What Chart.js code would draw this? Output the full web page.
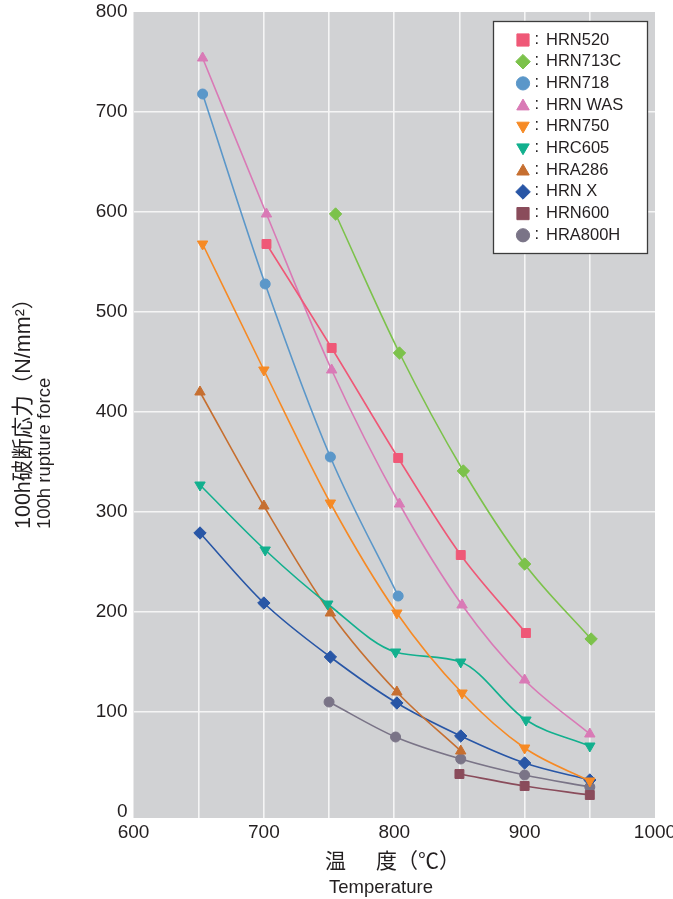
<!DOCTYPE html>
<html><head><meta charset="utf-8">
<script src="https://cdn.jsdelivr.net/npm/chart.js@4.4.0/dist/chart.umd.min.js"></script>
<style>html,body{margin:0;padding:0;background:#fff;}canvas{display:block;}</style>
</head><body>
<canvas id="c" width="673" height="899"></canvas>
<script>
// ---- data ----
const SERIES = ['HRN520','HRN713C','HRN718','HRN WAS','HRN750','HRC605','HRA286','HRN X','HRN600','HRA800H'];
const HRN520_T  = [702, 752, 803, 851, 901];
const HRN520_V  = [568, 464, 354, 257, 179];
const HRN713C_T = [755, 804, 853, 900, 951];
const HRN713C_V = [598, 459, 341, 248, 173];
const HRN718_T  = [653, 701, 751, 803];
const HRN718_V  = [718, 528, 355, 216];
const HRNWAS_T  = [653, 702, 752, 804, 852, 900, 950];
const HRNWAS_V  = [754, 598, 442, 308, 207, 132, 78];
const HRN750_T  = [653, 700, 751, 802, 852, 900, 950];
const HRN750_V  = [568, 442, 309, 199, 119, 64, 31];
const HRC605_T  = [651, 701, 749, 801, 851, 901, 950];
const HRC605_V  = [327, 262, 208, 160, 150, 92, 66];
const HRA286_T  = [651, 700, 751, 802, 851];
const HRA286_V  = [420, 306, 199, 120, 61];
const HRNX_T    = [651, 700, 751, 802, 851, 900, 950];
const HRNX_V    = [279, 209, 155, 109, 76, 49, 32];
const HRN600_T  = [850, 900, 950];
const HRN600_V  = [38, 26, 17];
const HRA800H_T = [750, 801, 851, 900, 950];
const HRA800H_V = [110, 75, 53, 37, 25];
const X_TICKS = [600, 650, 700, 750, 800, 850, 900, 950, 1000];
const Y_TICKS = [0, 100, 200, 300, 400, 500, 600, 700, 800];
const X_TITLE_JA = '温　度（℃）';
const X_TITLE_EN = 'Temperature';
const Y_TITLE_JA = '100h破断応力（N/mm²）';
const Y_TITLE_EN = '100h rupture force';

// ---- styles ----
const STYLE = [
  {c:'#ef5877', s:'rect',    r:6.3, rot:0},
  {c:'#7cc24b', s:'rectRot', r:6.2, rot:0},
  {c:'#5b97c9', s:'circle',  r:5.0, rot:0},
  {c:'#d97ab6', s:'triangle',r:6.0, rot:0},
  {c:'#f68a25', s:'triangle',r:6.0, rot:180},
  {c:'#12b08e', s:'triangle',r:6.0, rot:180},
  {c:'#c66f30', s:'triangle',r:6.0, rot:0},
  {c:'#2856a6', s:'rectRot', r:6.2, rot:0},
  {c:'#8a4c5b', s:'rect',    r:6.3, rot:0},
  {c:'#7a7487', s:'circle',  r:5.0, rot:0}
];
const DATA = [
  [HRN520_T,HRN520_V],[HRN713C_T,HRN713C_V],[HRN718_T,HRN718_V],[HRNWAS_T,HRNWAS_V],
  [HRN750_T,HRN750_V],[HRC605_T,HRC605_V],[HRA286_T,HRA286_V],[HRNX_T,HRNX_V],
  [HRN600_T,HRN600_V],[HRA800H_T,HRA800H_V]
];
const pts = (T,V) => T.map((t,i)=>({x:t,y:V[i]}));
const TXT = '#231f20';
const LAT = '"Liberation Sans", Arial, sans-serif';
const CJK = '"Liberation Sans", "Noto Sans CJK JP", sans-serif';

const datasets = SERIES.map((n,i)=>({
  label:n, data:pts(DATA[i][0],DATA[i][1]),
  showLine:true, borderColor:STYLE[i].c, backgroundColor:STYLE[i].c,
  borderWidth:1.6, cubicInterpolationMode:'monotone',
  pointStyle:STYLE[i].s, pointRadius:STYLE[i].r, pointRotation:STYLE[i].rot,
  pointBorderColor:STYLE[i].c, pointBackgroundColor:STYLE[i].c, pointBorderWidth:1,
  pointHoverRadius:STYLE[i].r
}));

function marker(ctx, st, x, y, r){
  ctx.save();
  ctx.fillStyle = st.c; ctx.strokeStyle = st.c; ctx.lineWidth = 1;
  ctx.beginPath();
  if (st.s === 'rect'){ const h = r*Math.SQRT1_2; ctx.rect(x-h,y-h,2*h,2*h); }
  else if (st.s === 'rectRot'){ ctx.moveTo(x,y-r); ctx.lineTo(x+r,y); ctx.lineTo(x,y+r); ctx.lineTo(x-r,y); ctx.closePath(); }
  else if (st.s === 'circle'){ ctx.arc(x,y,r,0,Math.PI*2); }
  else { let a = st.rot*Math.PI/180; for (let k=0;k<3;k++){ const px=x+Math.sin(a)*r, py=y-Math.cos(a)*r; k?ctx.lineTo(px,py):ctx.moveTo(px,py); a+=2*Math.PI/3; } ctx.closePath(); }
  ctx.fill(); ctx.stroke(); ctx.restore();
}

const deco = {
  id:'deco',
  beforeDraw(chart){
    const {ctx, chartArea:a} = chart;
    ctx.save(); ctx.fillStyle = '#d1d2d4';
    ctx.fillRect(a.left, a.top, a.right-a.left, a.bottom-a.top);
    ctx.restore();
  },
  afterDraw(chart){
    const ctx = chart.ctx;
    ctx.save();
    // legend box
    ctx.fillStyle = '#ffffff'; ctx.fillRect(493.5, 21.5, 154, 232);
    ctx.strokeStyle = '#3c3c3c'; ctx.lineWidth = 1.3; ctx.strokeRect(493.5, 21.5, 154, 232);
    ctx.font = '16.5px ' + LAT; ctx.textBaseline = 'middle'; ctx.textAlign = 'left'; ctx.fillStyle = TXT;
    SERIES.forEach((n,i)=>{
      const y = 40 + i*21.7;
      const st = STYLE[i];
      const r = st.s==='rect'?8.6:(st.s==='rectRot'?7.3:(st.s==='circle'?6.6:7.2));
      marker(ctx, st, 523, y + (st.s==='triangle' ? (st.rot? -1 : 1.2) : 0), r);
      ctx.fillStyle = TXT;
      ctx.fillText(':', 534.5, y-1);
      ctx.fillText(n, 546, y);
    });
    // x titles
    ctx.font = '21px "Noto Sans CJK JP", sans-serif'; ctx.textAlign = 'left'; ctx.textBaseline = 'middle';
    ctx.fillStyle = TXT;
    ctx.fillText(X_TITLE_JA.slice(0,1), 325, 860);
    ctx.fillText(X_TITLE_JA.slice(2), 376, 860);
    ctx.font = '18.5px ' + LAT; ctx.textAlign = 'center';
    ctx.fillText(X_TITLE_EN, 381, 888);
    // y titles
    ctx.translate(24, 529); ctx.rotate(-Math.PI/2);
    ctx.textAlign = 'left'; ctx.textBaseline = 'middle';
    ctx.font = '21.5px ' + CJK;
    ctx.fillText(Y_TITLE_JA, 0, 0);
    ctx.font = '18.5px ' + LAT;
    ctx.fillText(Y_TITLE_EN, 0, 21);
    ctx.restore();
  }
};

new Chart(document.getElementById('c'), {
  type:'scatter',
  data:{datasets},
  options:{
    responsive:false, animation:false, devicePixelRatio:1,
    layout:{padding:{left:0,right:18,top:12,bottom:0}},
    plugins:{legend:{display:false}, tooltip:{enabled:false}},
    scales:{
      x:{
        type:'linear', min:600, max:1000,
        afterBuildTicks(ax){ ax.ticks = X_TICKS.map(v=>({value:v})); },
        afterFit(s){ s.height = 81; s.paddingLeft = 0; s.paddingRight = 0; },
        grid:{drawTicks:false, lineWidth:1.6, color:(c)=> (c.tick && (c.tick.value===600||c.tick.value===1000)) ? 'rgba(0,0,0,0)' : '#f5f5f5'},
        border:{display:false},
        ticks:{padding:3, color:TXT, font:{family:LAT, size:19}, maxRotation:0, autoSkip:false,
          callback:(v)=> (v % 100 === 0) ? String(v) : ''}
      },
      y:{
        type:'linear', min:-6, max:800,
        afterBuildTicks(ax){ ax.ticks = Y_TICKS.map(v=>({value:v})); },
        afterFit(s){ s.width = 133.5; s.paddingTop = 0; s.paddingBottom = 0; },
        grid:{drawTicks:false, lineWidth:1.6, color:(c)=> (c.tick && (c.tick.value===0||c.tick.value===800)) ? 'rgba(0,0,0,0)' : '#f5f5f5'},
        border:{display:false},
        ticks:{padding:6, color:TXT, font:{family:LAT, size:19}, autoSkip:false}
      }
    }
  },
  plugins:[deco]
});
</script>
</body></html>
